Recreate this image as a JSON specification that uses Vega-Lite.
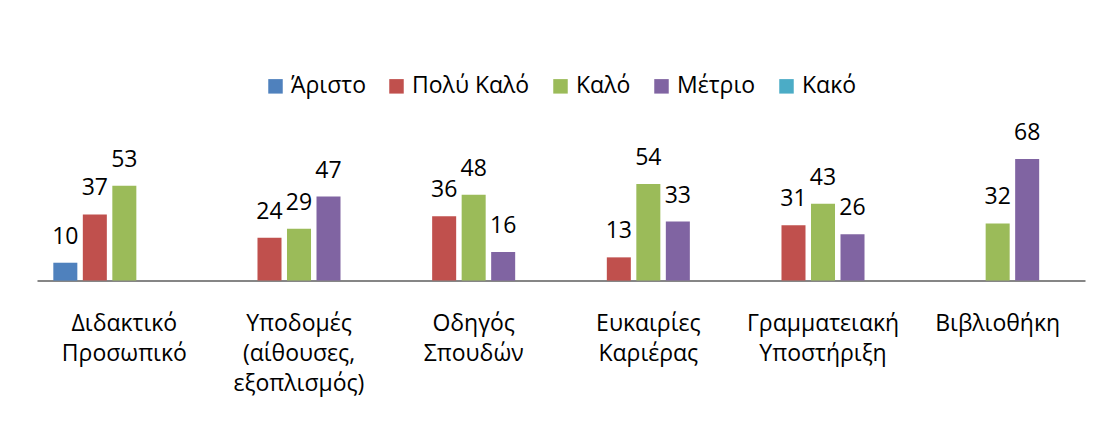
{
  "$schema": "https://vega.github.io/schema/vega-lite/v6.json",
  "width": 1048,
  "height": 143,
  "autosize": {"type": "none"},
  "padding": {"left": 37, "top": 137.6, "right": 16, "bottom": 144.4},
  "background": "white",
  "data": {
    "values": [
      {"category": "Διδακτικό Προσωπικό", "rating": "Άριστο", "value": 10},
      {"category": "Διδακτικό Προσωπικό", "rating": "Πολύ Καλό", "value": 37},
      {"category": "Διδακτικό Προσωπικό", "rating": "Καλό", "value": 53},
      {"category": "Υποδομές (αίθουσες, εξοπλισμός)", "rating": "Πολύ Καλό", "value": 24},
      {"category": "Υποδομές (αίθουσες, εξοπλισμός)", "rating": "Καλό", "value": 29},
      {"category": "Υποδομές (αίθουσες, εξοπλισμός)", "rating": "Μέτριο", "value": 47},
      {"category": "Οδηγός Σπουδών", "rating": "Πολύ Καλό", "value": 36},
      {"category": "Οδηγός Σπουδών", "rating": "Καλό", "value": 48},
      {"category": "Οδηγός Σπουδών", "rating": "Μέτριο", "value": 16},
      {"category": "Ευκαιρίες Καριέρας", "rating": "Πολύ Καλό", "value": 13},
      {"category": "Ευκαιρίες Καριέρας", "rating": "Καλό", "value": 54},
      {"category": "Ευκαιρίες Καριέρας", "rating": "Μέτριο", "value": 33},
      {"category": "Γραμματειακή Υποστήριξη", "rating": "Πολύ Καλό", "value": 31},
      {"category": "Γραμματειακή Υποστήριξη", "rating": "Καλό", "value": 43},
      {"category": "Γραμματειακή Υποστήριξη", "rating": "Μέτριο", "value": 26},
      {"category": "Βιβλιοθήκη", "rating": "Καλό", "value": 32},
      {"category": "Βιβλιοθήκη", "rating": "Μέτριο", "value": 68}
    ]
  },
  "encoding": {
    "x": {
      "field": "category",
      "type": "nominal",
      "sort": null,
      "scale": {"paddingInner": 0, "paddingOuter": 0},
      "axis": {
        "title": null,
        "labelAngle": 0,
        "labelExpr": "split(datum.label, ' ')",
        "labelFont": "Open Sans",
        "labelFontSize": 23,
        "labelColor": "#000000",
        "labelLineHeight": 30,
        "labelPadding": 32,
        "ticks": false,
        "domainColor": "#868686",
        "domainWidth": 2,
        "grid": false
      }
    },
    "xOffset": {
      "field": "rating",
      "type": "nominal",
      "scale": {
        "domain": ["Άριστο", "Πολύ Καλό", "Καλό", "Μέτριο", "Κακό"],
        "paddingInner": 0.186,
        "paddingOuter": 0.553
      }
    },
    "y": {
      "field": "value",
      "type": "quantitative",
      "scale": {"domain": [0, 80], "nice": false},
      "axis": null
    }
  },
  "layer": [
    {
      "mark": {"type": "bar"},
      "encoding": {
        "color": {
          "field": "rating",
          "type": "nominal",
          "scale": {
            "domain": ["Άριστο", "Πολύ Καλό", "Καλό", "Μέτριο", "Κακό"],
            "range": ["#4F81BD", "#C0504D", "#9BBB59", "#8064A2", "#4BACC6"]
          },
          "legend": {
            "title": null,
            "orient": "none",
            "direction": "horizontal",
            "legendX": 227,
            "legendY": -63,
            "symbolType": "square",
            "symbolSize": 210,
            "symbolStrokeWidth": 0,
            "labelFont": "Open Sans",
            "labelFontSize": 23,
            "labelColor": "#000000",
            "labelOffset": 4,
            "columnPadding": 19,
            "labelLimit": 300
          }
        }
      }
    },
    {
      "mark": {
        "type": "text",
        "baseline": "alphabetic",
        "dy": -19,
        "font": "Open Sans",
        "fontSize": 23,
        "color": "#000000"
      },
      "encoding": {"text": {"field": "value", "type": "quantitative"}}
    }
  ],
  "config": {"view": {"stroke": null}}
}
